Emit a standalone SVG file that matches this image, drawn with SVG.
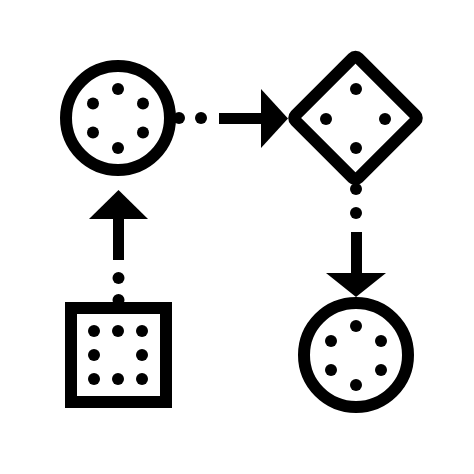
<svg xmlns="http://www.w3.org/2000/svg" width="474" height="474" viewBox="0 0 474 474">
  <style>
    .shape { fill: none; stroke: #000; stroke-width: 12; stroke-linejoin: round; }
    .dot { fill: #000; }
    .line { stroke: #000; stroke-width: 11; fill: none; }
    .head { fill: #000; }
  </style>
  <rect width="474" height="474" fill="#fff"/>
  <g id="connectors">
    <!-- circle -> diamond -->
    <circle class="dot" cx="179" cy="118" r="6"/>
    <circle class="dot" cx="201" cy="118" r="6"/>
    <line class="line" x1="219" y1="118.5" x2="263" y2="118.5"/>
    <polygon class="head" points="261,89 288,118.5 261,148"/>
    <!-- diamond -> bottom circle -->
    <circle class="dot" cx="356" cy="189" r="6"/>
    <circle class="dot" cx="356" cy="213" r="6"/>
    <line class="line" x1="356.5" y1="232" x2="356.5" y2="275"/>
    <polygon class="head" points="326,273 356,297 386,273"/>
    <!-- square -> top circle -->
    <circle class="dot" cx="118.5" cy="300" r="6"/>
    <circle class="dot" cx="118.5" cy="278" r="6"/>
    <line class="line" x1="118.5" y1="260" x2="118.5" y2="217"/>
    <polygon class="head" points="89,219 118.5,190 148,219"/>
  </g>
  <g id="node-circle-top">
    <circle class="shape" cx="118" cy="118" r="52"/>
    <circle class="dot" cx="118" cy="89" r="6"/>
    <circle class="dot" cx="93" cy="103.5" r="6"/>
    <circle class="dot" cx="143" cy="103.5" r="6"/>
    <circle class="dot" cx="93" cy="132.5" r="6"/>
    <circle class="dot" cx="143" cy="132.5" r="6"/>
    <circle class="dot" cx="118" cy="148" r="6"/>
  </g>
  <g id="node-diamond">
    <rect class="shape" x="-44.5" y="-44.5" width="89" height="89" rx="4" transform="translate(355.5 118) rotate(45)"/>
    <circle class="dot" cx="356" cy="89" r="6"/>
    <circle class="dot" cx="326" cy="119" r="6"/>
    <circle class="dot" cx="385" cy="119" r="6"/>
    <circle class="dot" cx="356" cy="148" r="6"/>
  </g>
  <g id="node-circle-bottom">
    <circle class="shape" cx="356" cy="355" r="52"/>
    <circle class="dot" cx="356" cy="326" r="6"/>
    <circle class="dot" cx="331" cy="341" r="6"/>
    <circle class="dot" cx="381" cy="341" r="6"/>
    <circle class="dot" cx="331" cy="370" r="6"/>
    <circle class="dot" cx="381" cy="370" r="6"/>
    <circle class="dot" cx="356" cy="385" r="6"/>
  </g>
  <g id="node-square">
    <rect class="shape" x="71" y="308" width="95" height="94" style="stroke-linejoin:miter"/>
    <circle class="dot" cx="94" cy="331" r="6"/>
    <circle class="dot" cx="118" cy="331" r="6"/>
    <circle class="dot" cx="142" cy="331" r="6"/>
    <circle class="dot" cx="94" cy="355" r="6"/>
    <circle class="dot" cx="142" cy="355" r="6"/>
    <circle class="dot" cx="94" cy="379" r="6"/>
    <circle class="dot" cx="118" cy="379" r="6"/>
    <circle class="dot" cx="142" cy="379" r="6"/>
  </g>
</svg>
